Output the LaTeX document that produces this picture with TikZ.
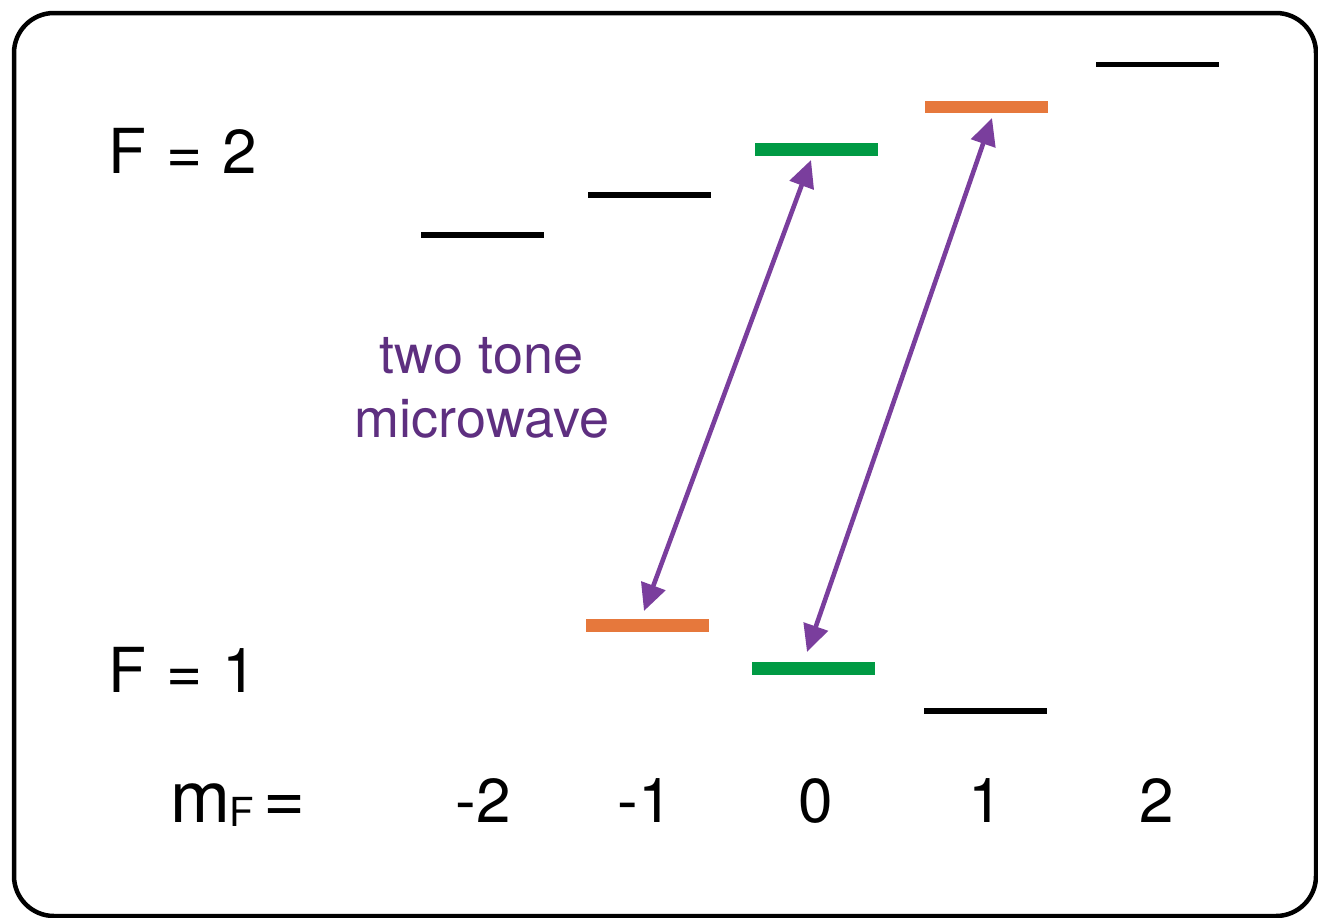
\documentclass[tikz,border=0pt]{standalone}
\usepackage{fontspec}
\setmainfont{TeX Gyre Heros}
\usetikzlibrary{arrows.meta}
\definecolor{lvgreen}{RGB}{0,154,68}
\definecolor{lvorange}{RGB}{230,120,60}
\definecolor{arrpurple}{RGB}{122,62,157}
\definecolor{txtpurple}{RGB}{94,47,128}
\tikzset{
  lev/.style={rectangle, inner sep=0pt, minimum width=123pt, draw=none},
  blk/.style={lev, fill=black, minimum height=5.5pt},
  col/.style={lev, minimum height=12.5pt},
  lbl/.style={inner sep=0pt, anchor=base, font=\fontsize{62}{74}\selectfont},
  mw/.style={inner sep=0pt, anchor=base, text=txtpurple, font=\fontsize{54}{64}\selectfont},
  trans/.style={arrpurple, line width=4.6pt, {Triangle[length=27pt,width=25pt]}-{Triangle[length=27pt,width=25pt]}},
}
\begin{document}
\begin{tikzpicture}[x=1pt,y=-1pt]
\useasboundingbox (0,0) rectangle (1318,918);
\draw[line width=4.5pt, rounded corners=40pt] (14,13) rectangle (1316,916);
% F=2 levels
\node[blk] (u-2) at (482.5,235) {};
\node[blk] (u-1) at (649.5,195) {};
\node[col, fill=lvgreen] (u0) at (816,149.5) {};
\node[col, fill=lvorange] (u1) at (986.5,107) {};
\node[blk] (u2) at (1157,64.5) {};
% F=1 levels
\node[col, fill=lvorange] (l-1) at (647.5,625.5) {};
\node[col, fill=lvgreen] (l0) at (813.5,668.5) {};
\node[blk] (l1) at (985,711) {};
% labels
\node[lbl, anchor=base west] (f2) at (108,173) {F\hspace{3pt} = \hspace{3pt}2};
\node[lbl, anchor=base west] (f1) at (108,692) {F\hspace{3pt} = \hspace{3pt}1};
\node[inner sep=0pt, anchor=base west, font=\fontsize{72}{80}\selectfont] (mf) at (170,822) {m\kern-1pt\raisebox{-4pt}{\fontsize{40}{44}\selectfont F}\hspace{10pt}=};
\node[lbl] (n-2) at (483,822) {-2};
\node[lbl] (n-1) at (645,822) {-1};
\node[lbl] (n0) at (816,822) {0};
\node[lbl] (n1) at (986,822) {1};
\node[lbl] (n2) at (1157,822) {2};
\node[mw] (tt) at (481.5,373) {two tone};
\node[mw] (mwv) at (482,437) {microwave};
% transitions
\coordinate (a1t) at (811,160);
\coordinate (a1b) at (644,611);
\coordinate (a2t) at (992,118);
\coordinate (a2b) at (807,652);
\draw[trans] (a1b) -- (a1t);
\draw[trans] (a2b) -- (a2t);
\end{tikzpicture}
\end{document}
